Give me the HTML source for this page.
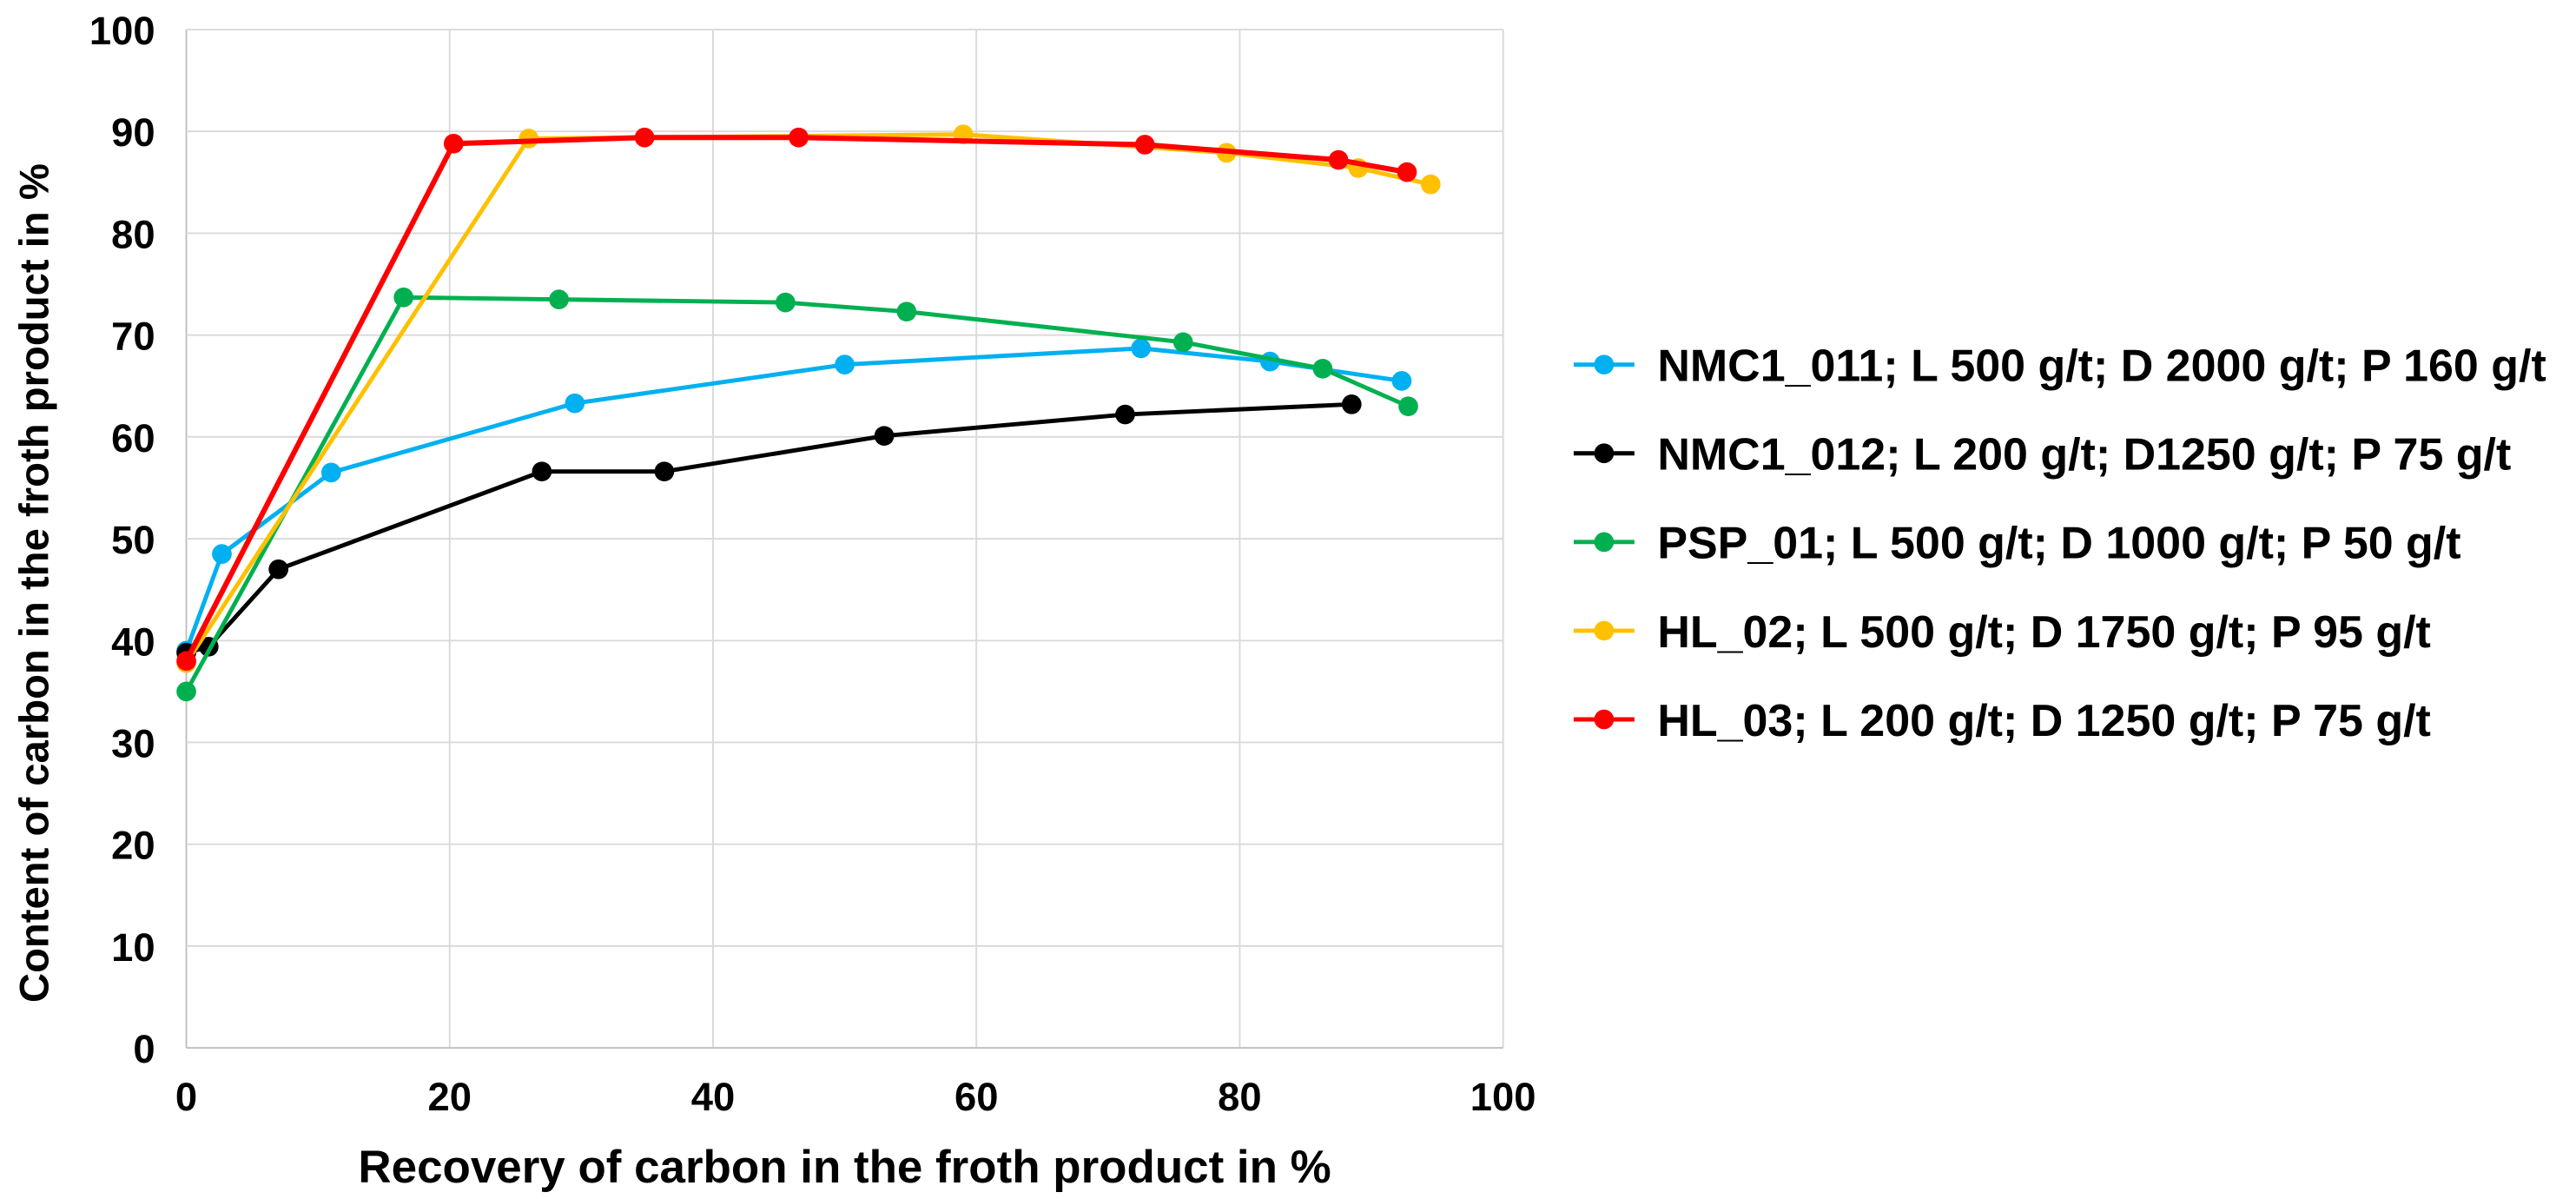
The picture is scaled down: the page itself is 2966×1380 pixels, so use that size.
<!DOCTYPE html>
<html><head><meta charset="utf-8"><style>
html,body{margin:0;padding:0;background:#fff;}
svg{display:block;font-family:"Liberation Sans",Arial,sans-serif;font-weight:bold;}
</style></head><body>
<svg id="chart" width="2966" height="1380" viewBox="0 0 1568 730" xmlns="http://www.w3.org/2000/svg">
<g id="grid"></g>
<g id="axes"></g>
<g id="series"></g>
<g id="legend"></g>
<text x="514" y="720" text-anchor="middle" font-size="28">Recovery of carbon in the froth product in %</text>
<text transform="translate(29,355) rotate(-90)" text-anchor="middle" font-size="25">Content of carbon in the froth product in %</text>
</svg>
<script>
const xTicks=[0,20,40,60,80,100];
const yTicks=[0,10,20,30,40,50,60,70,80,90,100];
const seriesNames=["NMC1_011; L 500 g/t; D 2000 g/t; P 160 g/t","NMC1_012; L 200 g/t; D1250 g/t; P 75 g/t","PSP_01; L 500 g/t; D 1000 g/t; P 50 g/t","HL_02; L 500 g/t; D 1750 g/t; P 95 g/t","HL_03; L 200 g/t; D 1250 g/t; P 75 g/t"];
const seriesColors=["#00B0F0","#000000","#00B050","#FFC000","#FF0000"];
const nmc011X=[0,2.7,11,29.5,50,72.5,82.3,92.3];
const nmc011Y=[39,48.5,56.5,63.3,67.1,68.7,67.4,65.5];
const nmc012X=[0,1.7,7,27,36.3,53,71.3,88.5];
const nmc012Y=[38.8,39.4,47,56.6,56.6,60.1,62.2,63.2];
const pspX=[0,16.5,28.3,45.5,54.7,75.7,86.3,92.8];
const pspY=[35,73.7,73.5,73.2,72.3,69.3,66.7,63];
const hl02X=[0,26,59,79,89,94.5];
const hl02Y=[37.8,89.3,89.7,87.9,86.4,84.8];
const hl03X=[0,20.3,34.8,46.5,72.8,87.5,92.7];
const hl03Y=[38,88.8,89.4,89.4,88.7,87.2,86];
const NS="http://www.w3.org/2000/svg";
const X0=113,X1=915,Y0=638,Y1=18;
function sx(v){return X0+(X1-X0)*v/100;}
function sy(v){return Y0-(Y0-Y1)*v/100;}
function mk(t,a,p){const e=document.createElementNS(NS,t);for(const k in a)e.setAttribute(k,a[k]);p.appendChild(e);return e;}
const grid=document.getElementById('grid'),axes=document.getElementById('axes'),ser=document.getElementById('series'),leg=document.getElementById('legend');
xTicks.forEach(t=>{
 const l=mk('line',{x1:sx(t),x2:sx(t),y1:Y1,y2:Y0,stroke:t===0?'#bfbfbf':'#d9d9d9','stroke-width':1},grid);
 
 
 const tx=mk('text',{x:sx(t),y:Y0+38,'text-anchor':'middle','font-size':24},axes);tx.textContent=t;
 
 
});
yTicks.forEach(t=>{
 const l=mk('line',{x1:X0,x2:X1,y1:sy(t),y2:sy(t),stroke:t===0?'#bfbfbf':'#d9d9d9','stroke-width':1},grid);
 
 
 const tx=mk('text',{x:X0-19,y:sy(t)+9,'text-anchor':'end','font-size':24},axes);tx.textContent=t;
 
 
});
const allX=[nmc011X,nmc012X,pspX,hl02X,hl03X],allY=[nmc011Y,nmc012Y,pspY,hl02Y,hl03Y];
const slugs=['nmc1-011','nmc1-012','psp-01','hl-02','hl-03'];
allX.forEach((xs,i)=>{
 const g=mk('g',{},ser);
 
 
 const pts=xs.map((x,j)=>sx(x)+','+sy(allY[i][j])).join(' ');
 const pl=mk('polyline',{points:pts,fill:'none',stroke:seriesColors[i],'stroke-width':i===4?3.2:2.6,'stroke-linejoin':'round'},g);
 
 
 xs.forEach((x,j)=>{
  const c=mk('circle',{cx:sx(x),cy:sy(allY[i][j]),r:6,fill:seriesColors[i]},g);
  
  
 });
 const ly=222+i*54;
 const lg=mk('g',{},leg);
 
 
 mk('line',{x1:958,x2:995,y1:ly,y2:ly,stroke:seriesColors[i],'stroke-width':2.6},lg);
 mk('circle',{cx:976.5,cy:ly,r:6,fill:seriesColors[i]},lg);
 const t=mk('text',{x:1009,y:ly+10,'font-size':27.5},lg);t.textContent=seriesNames[i];
});
</script>
</body></html>
